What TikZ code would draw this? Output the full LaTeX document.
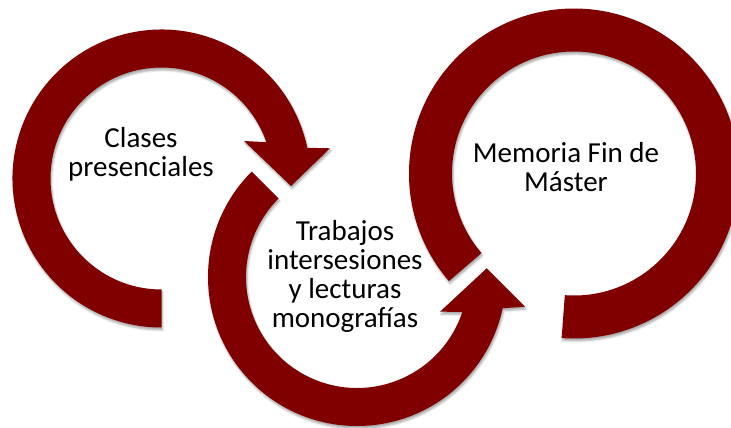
\documentclass[tikz,border=0pt]{standalone}
\usepackage{fontspec}
\setmainfont{Carlito}
\usetikzlibrary{shadows.blur}
\definecolor{granate}{RGB}{128,0,0}
\tikzset{
  ring/.style={fill=granate, blur shadow={shadow xshift=0.6pt, shadow yshift=-1.4pt, shadow blur radius=1.2pt, shadow opacity=35}},
  ringtext/.style={font=\fontsize{16.5}{16.5}\selectfont, align=center, inner sep=0pt},
}

\begin{document}
\begin{tikzpicture}[x=0.02cm, y=0.02cm]
  \useasboundingbox (0,0) rectangle (731,427);
  \coordinate (c1) at (161.5,248.5);
  \coordinate (c2) at (357,150);
  \coordinate (c3) at (574,253.5);
  \begin{scope}[shift={(c3)}]
    \fill[ring] (220.7:165) arc[start angle=220.7, end angle=-94.3, radius=165]
      -- (-94.3:122) arc[start angle=-94.3, end angle=220.7, radius=122] -- cycle;
  \end{scope}
  \begin{scope}[shift={(c2)}]
    \fill[ring] (135:149) arc[start angle=135, end angle=347.9, radius=149]
      -- (168,-29.7) -- (129.7,8.7) -- (83,-34.7)
      -- (341.7:111) arc[start angle=341.7, end angle=135, radius=111] -- cycle;
  \end{scope}
  \begin{scope}[shift={(c1)}]
    \fill[ring] (11.9:149) arc[start angle=11.9, end angle=270, radius=149]
      -- (270:111) arc[start angle=270, end angle=19.1, radius=111]
      -- (82.5,37.5) -- (129.5,-7.5) -- (168.5,30.2) -- cycle;
  \end{scope}
  \node[ringtext] (clases) at (141,272.5) {Clases\\presenciales};
  \node[ringtext] (trabajos) at (345,150.5) {Trabajos\\intersesiones\\y lecturas\\monografías};
  \node[ringtext] (memoria) at (566,259.5) {Memoria Fin de\\Máster};
\end{tikzpicture}
\end{document}
